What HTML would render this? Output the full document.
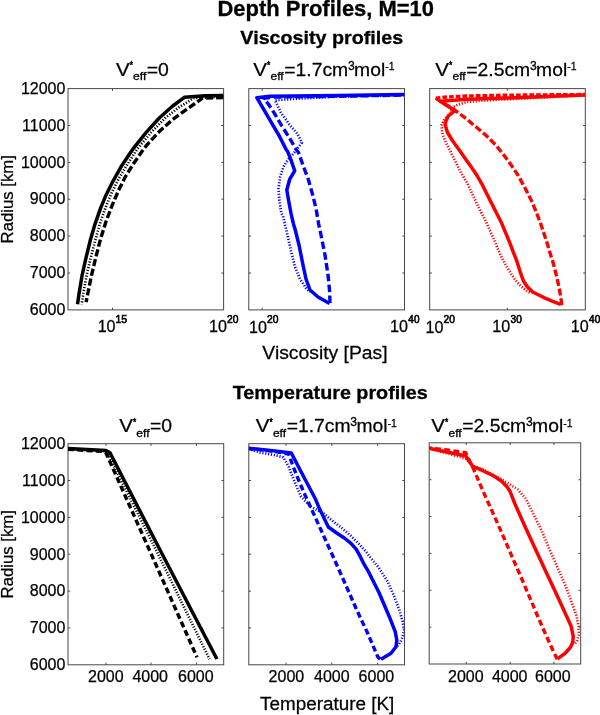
<!DOCTYPE html>
<html lang="en"><head><meta charset="utf-8"><title>Depth Profiles, M=10</title>
<style>html,body{margin:0;padding:0;background:#fff}svg{display:block}text{font-family:"Liberation Sans", Arial, Helvetica, sans-serif;fill:#000}</style>
</head><body>
<svg width="600" height="715" viewBox="0 0 600 715">
<rect x="0" y="0" width="600" height="715" fill="#fff"/>
<rect x="68.0" y="88.6" width="155.6" height="221.3" fill="none" stroke="#484848" stroke-width="1"/>
<path d="M68.0 125.5h2.2M223.6 125.5h-2.2M68.0 162.4h2.2M223.6 162.4h-2.2M68.0 199.2h2.2M223.6 199.2h-2.2M68.0 236.1h2.2M223.6 236.1h-2.2M68.0 273.0h2.2M223.6 273.0h-2.2M112.5 88.6v2.2M112.5 309.9v-2.2" stroke="#484848" stroke-width="1" fill="none"/>
<rect x="248.8" y="88.6" width="155.7" height="221.3" fill="none" stroke="#484848" stroke-width="1"/>
<path d="M248.8 125.5h2.2M404.5 125.5h-2.2M248.8 162.4h2.2M404.5 162.4h-2.2M248.8 199.2h2.2M404.5 199.2h-2.2M248.8 236.1h2.2M404.5 236.1h-2.2M248.8 273.0h2.2M404.5 273.0h-2.2M262.2 88.6v2.2M262.2 309.9v-2.2" stroke="#484848" stroke-width="1" fill="none"/>
<rect x="429.7" y="88.6" width="155.6" height="221.3" fill="none" stroke="#484848" stroke-width="1"/>
<path d="M429.7 125.5h2.2M585.3 125.5h-2.2M429.7 162.4h2.2M585.3 162.4h-2.2M429.7 199.2h2.2M585.3 199.2h-2.2M429.7 236.1h2.2M585.3 236.1h-2.2M429.7 273.0h2.2M585.3 273.0h-2.2M507.3 88.6v2.2M507.3 309.9v-2.2" stroke="#484848" stroke-width="1" fill="none"/>
<rect x="68.0" y="443.7" width="155.7" height="221.1" fill="none" stroke="#484848" stroke-width="1"/>
<path d="M68.0 480.5h2.2M223.7 480.5h-2.2M68.0 517.4h2.2M223.7 517.4h-2.2M68.0 554.2h2.2M223.7 554.2h-2.2M68.0 591.1h2.2M223.7 591.1h-2.2M68.0 627.9h2.2M223.7 627.9h-2.2M106.0 443.7v2.2M106.0 664.8v-2.2M151.0 443.7v2.2M151.0 664.8v-2.2M196.5 443.7v2.2M196.5 664.8v-2.2" stroke="#484848" stroke-width="1" fill="none"/>
<rect x="248.8" y="443.7" width="155.7" height="221.1" fill="none" stroke="#484848" stroke-width="1"/>
<path d="M248.8 480.5h2.2M404.5 480.5h-2.2M248.8 517.4h2.2M404.5 517.4h-2.2M248.8 554.2h2.2M404.5 554.2h-2.2M248.8 591.1h2.2M404.5 591.1h-2.2M248.8 627.9h2.2M404.5 627.9h-2.2M286.0 443.7v2.2M286.0 664.8v-2.2M331.8 443.7v2.2M331.8 664.8v-2.2M377.7 443.7v2.2M377.7 664.8v-2.2" stroke="#484848" stroke-width="1" fill="none"/>
<rect x="429.2" y="442.8" width="151.5" height="221.2" fill="none" stroke="#484848" stroke-width="1"/>
<path d="M429.2 479.7h2.2M580.7 479.7h-2.2M429.2 516.5h2.2M580.7 516.5h-2.2M429.2 553.4h2.2M580.7 553.4h-2.2M429.2 590.3h2.2M580.7 590.3h-2.2M429.2 627.1h2.2M580.7 627.1h-2.2M466.2 442.8v2.2M466.2 664.0v-2.2M510.2 442.8v2.2M510.2 664.0v-2.2M553.9 442.8v2.2M553.9 664.0v-2.2" stroke="#484848" stroke-width="1" fill="none"/>
<text x="65.4" y="93.8" font-size="16.0" text-anchor="end" font-weight="normal" stroke="#000" stroke-width="0.25">12000</text>
<text x="65.4" y="130.7" font-size="16.0" text-anchor="end" font-weight="normal" stroke="#000" stroke-width="0.25">11000</text>
<text x="65.4" y="167.6" font-size="16.0" text-anchor="end" font-weight="normal" stroke="#000" stroke-width="0.25">10000</text>
<text x="65.4" y="204.4" font-size="16.0" text-anchor="end" font-weight="normal" stroke="#000" stroke-width="0.25">9000</text>
<text x="65.4" y="241.3" font-size="16.0" text-anchor="end" font-weight="normal" stroke="#000" stroke-width="0.25">8000</text>
<text x="65.4" y="278.2" font-size="16.0" text-anchor="end" font-weight="normal" stroke="#000" stroke-width="0.25">7000</text>
<text x="65.4" y="315.1" font-size="16.0" text-anchor="end" font-weight="normal" stroke="#000" stroke-width="0.25">6000</text>
<text x="65.4" y="448.9" font-size="16.0" text-anchor="end" font-weight="normal" stroke="#000" stroke-width="0.25">12000</text>
<text x="65.4" y="485.7" font-size="16.0" text-anchor="end" font-weight="normal" stroke="#000" stroke-width="0.25">11000</text>
<text x="65.4" y="522.6" font-size="16.0" text-anchor="end" font-weight="normal" stroke="#000" stroke-width="0.25">10000</text>
<text x="65.4" y="559.5" font-size="16.0" text-anchor="end" font-weight="normal" stroke="#000" stroke-width="0.25">9000</text>
<text x="65.4" y="596.3" font-size="16.0" text-anchor="end" font-weight="normal" stroke="#000" stroke-width="0.25">8000</text>
<text x="65.4" y="633.1" font-size="16.0" text-anchor="end" font-weight="normal" stroke="#000" stroke-width="0.25">7000</text>
<text x="65.4" y="670.0" font-size="16.0" text-anchor="end" font-weight="normal" stroke="#000" stroke-width="0.25">6000</text>
<text x="105.8" y="682.3" font-size="16.0" text-anchor="middle" font-weight="normal" stroke="#000" stroke-width="0.25">2000</text>
<text x="150.2" y="682.3" font-size="16.0" text-anchor="middle" font-weight="normal" stroke="#000" stroke-width="0.25">4000</text>
<text x="195.8" y="682.3" font-size="16.0" text-anchor="middle" font-weight="normal" stroke="#000" stroke-width="0.25">6000</text>
<text x="286.4" y="682.3" font-size="16.0" text-anchor="middle" font-weight="normal" stroke="#000" stroke-width="0.25">2000</text>
<text x="331.8" y="682.3" font-size="16.0" text-anchor="middle" font-weight="normal" stroke="#000" stroke-width="0.25">4000</text>
<text x="376.4" y="682.3" font-size="16.0" text-anchor="middle" font-weight="normal" stroke="#000" stroke-width="0.25">6000</text>
<text x="465.8" y="682.3" font-size="16.0" text-anchor="middle" font-weight="normal" stroke="#000" stroke-width="0.25">2000</text>
<text x="509.7" y="682.3" font-size="16.0" text-anchor="middle" font-weight="normal" stroke="#000" stroke-width="0.25">4000</text>
<text x="552.8" y="682.3" font-size="16.0" text-anchor="middle" font-weight="normal" stroke="#000" stroke-width="0.25">6000</text>
<text transform="translate(217.47 15.60) scale(1.0222 1)" font-size="21.5" font-weight="bold" stroke="#000" stroke-width="0.30">Depth Profiles, M=10</text>
<text transform="translate(240.37 43.50) scale(1.0651 1)" font-size="18.5" font-weight="bold" stroke="#000" stroke-width="0.30">Viscosity profiles</text>
<text transform="translate(232.73 399.40) scale(1.0681 1)" font-size="18.5" font-weight="bold" stroke="#000" stroke-width="0.30">Temperature profiles</text>
<text transform="translate(115.96 75.70) scale(1.1020 1)" font-size="18.7" font-weight="normal" stroke="#000" stroke-width="0.25">V</text>
<text transform="translate(129.79 68.97) scale(0.8286 1)" font-size="10" font-weight="normal" stroke="#000" stroke-width="0.50">*</text>
<text transform="translate(133.08 80.00) scale(1.0449 1)" font-size="11.6" font-weight="normal" stroke="#000" stroke-width="0.30">eff</text>
<text transform="translate(146.79 75.70) scale(1.0380 1)" font-size="18.7" font-weight="normal" stroke="#000" stroke-width="0.25">=0</text>
<text transform="translate(253.26 75.70) scale(1.1020 1)" font-size="18.7" font-weight="normal" stroke="#000" stroke-width="0.25">V</text>
<text transform="translate(267.09 68.97) scale(0.8286 1)" font-size="10" font-weight="normal" stroke="#000" stroke-width="0.50">*</text>
<text transform="translate(270.48 80.00) scale(1.0367 1)" font-size="11.6" font-weight="normal" stroke="#000" stroke-width="0.30">eff</text>
<text transform="translate(284.29 75.70) scale(1.0343 1)" font-size="18.7" font-weight="normal" stroke="#000" stroke-width="0.25">=1.7cm</text>
<text transform="translate(347.89 69.67) scale(1.0133 1)" font-size="12" font-weight="normal" stroke="#000" stroke-width="0.30">3</text>
<text transform="translate(354.11 75.70) scale(1.0317 1)" font-size="18.7" font-weight="normal" stroke="#000" stroke-width="0.25">mol</text>
<text transform="translate(385.25 69.80) scale(0.8973 1)" font-size="11.6" font-weight="normal" stroke="#000" stroke-width="0.30">-1</text>
<text transform="translate(435.26 75.70) scale(1.1020 1)" font-size="18.7" font-weight="normal" stroke="#000" stroke-width="0.25">V</text>
<text transform="translate(449.09 68.97) scale(0.8286 1)" font-size="10" font-weight="normal" stroke="#000" stroke-width="0.50">*</text>
<text transform="translate(452.48 80.00) scale(1.0367 1)" font-size="11.6" font-weight="normal" stroke="#000" stroke-width="0.30">eff</text>
<text transform="translate(466.29 75.70) scale(1.0343 1)" font-size="18.7" font-weight="normal" stroke="#000" stroke-width="0.25">=2.5cm</text>
<text transform="translate(529.89 69.67) scale(1.0133 1)" font-size="12" font-weight="normal" stroke="#000" stroke-width="0.30">3</text>
<text transform="translate(536.11 75.70) scale(1.0317 1)" font-size="18.7" font-weight="normal" stroke="#000" stroke-width="0.25">mol</text>
<text transform="translate(567.25 69.80) scale(0.8973 1)" font-size="11.6" font-weight="normal" stroke="#000" stroke-width="0.30">-1</text>
<text transform="translate(119.16 432.40) scale(1.1020 1)" font-size="18.7" font-weight="normal" stroke="#000" stroke-width="0.25">V</text>
<text transform="translate(132.99 425.68) scale(0.8286 1)" font-size="10" font-weight="normal" stroke="#000" stroke-width="0.50">*</text>
<text transform="translate(136.28 436.70) scale(1.0449 1)" font-size="11.6" font-weight="normal" stroke="#000" stroke-width="0.30">eff</text>
<text transform="translate(149.99 432.40) scale(1.0380 1)" font-size="18.7" font-weight="normal" stroke="#000" stroke-width="0.25">=0</text>
<text transform="translate(255.66 432.40) scale(1.1020 1)" font-size="18.7" font-weight="normal" stroke="#000" stroke-width="0.25">V</text>
<text transform="translate(269.49 425.68) scale(0.8286 1)" font-size="10" font-weight="normal" stroke="#000" stroke-width="0.50">*</text>
<text transform="translate(272.88 436.70) scale(1.0367 1)" font-size="11.6" font-weight="normal" stroke="#000" stroke-width="0.30">eff</text>
<text transform="translate(286.69 432.40) scale(1.0343 1)" font-size="18.7" font-weight="normal" stroke="#000" stroke-width="0.25">=1.7cm</text>
<text transform="translate(350.29 426.38) scale(1.0133 1)" font-size="12" font-weight="normal" stroke="#000" stroke-width="0.30">3</text>
<text transform="translate(356.51 432.40) scale(1.0317 1)" font-size="18.7" font-weight="normal" stroke="#000" stroke-width="0.25">mol</text>
<text transform="translate(387.65 426.50) scale(0.8973 1)" font-size="11.6" font-weight="normal" stroke="#000" stroke-width="0.30">-1</text>
<text transform="translate(431.26 432.40) scale(1.1020 1)" font-size="18.7" font-weight="normal" stroke="#000" stroke-width="0.25">V</text>
<text transform="translate(445.09 425.68) scale(0.8286 1)" font-size="10" font-weight="normal" stroke="#000" stroke-width="0.50">*</text>
<text transform="translate(448.48 436.70) scale(1.0367 1)" font-size="11.6" font-weight="normal" stroke="#000" stroke-width="0.30">eff</text>
<text transform="translate(462.29 432.40) scale(1.0343 1)" font-size="18.7" font-weight="normal" stroke="#000" stroke-width="0.25">=2.5cm</text>
<text transform="translate(525.89 426.38) scale(1.0133 1)" font-size="12" font-weight="normal" stroke="#000" stroke-width="0.30">3</text>
<text transform="translate(532.11 432.40) scale(1.0317 1)" font-size="18.7" font-weight="normal" stroke="#000" stroke-width="0.25">mol</text>
<text transform="translate(563.25 426.50) scale(0.8973 1)" font-size="11.6" font-weight="normal" stroke="#000" stroke-width="0.30">-1</text>
<text transform="translate(12.90 243.44) rotate(-90) scale(1.0451 1)" font-size="16" font-weight="normal" stroke="#000" stroke-width="0.25">Radius [km]</text>
<text transform="translate(12.90 598.44) rotate(-90) scale(1.0451 1)" font-size="16" font-weight="normal" stroke="#000" stroke-width="0.25">Radius [km]</text>
<text transform="translate(97.64 331.80) scale(1.0079 1)" font-size="16" font-weight="normal" stroke="#000" stroke-width="0.25">10</text>
<text transform="translate(115.45 322.50) scale(1.0000 1)" font-size="10.5" font-weight="normal" stroke="#000" stroke-width="0.60">15</text>
<text transform="translate(208.94 331.80) scale(1.0079 1)" font-size="16" font-weight="normal" stroke="#000" stroke-width="0.25">10</text>
<text transform="translate(227.01 322.50) scale(0.9767 1)" font-size="10.5" font-weight="normal" stroke="#000" stroke-width="0.60">20</text>
<text transform="translate(248.94 332.50) scale(1.0079 1)" font-size="16" font-weight="normal" stroke="#000" stroke-width="0.25">10</text>
<text transform="translate(267.01 323.20) scale(0.9767 1)" font-size="10.5" font-weight="normal" stroke="#000" stroke-width="0.60">20</text>
<text transform="translate(390.04 331.80) scale(1.0079 1)" font-size="16" font-weight="normal" stroke="#000" stroke-width="0.25">10</text>
<text transform="translate(408.36 322.50) scale(0.9545 1)" font-size="10.5" font-weight="normal" stroke="#000" stroke-width="0.60">40</text>
<text transform="translate(425.54 332.50) scale(1.0079 1)" font-size="16" font-weight="normal" stroke="#000" stroke-width="0.25">10</text>
<text transform="translate(443.61 323.20) scale(0.9767 1)" font-size="10.5" font-weight="normal" stroke="#000" stroke-width="0.60">20</text>
<text transform="translate(492.34 331.80) scale(1.0079 1)" font-size="16" font-weight="normal" stroke="#000" stroke-width="0.25">10</text>
<text transform="translate(510.54 322.50) scale(0.9655 1)" font-size="10.5" font-weight="normal" stroke="#000" stroke-width="0.60">30</text>
<text transform="translate(570.74 331.80) scale(1.0079 1)" font-size="16" font-weight="normal" stroke="#000" stroke-width="0.25">10</text>
<text transform="translate(589.06 322.50) scale(0.9545 1)" font-size="10.5" font-weight="normal" stroke="#000" stroke-width="0.60">40</text>
<text transform="translate(262.37 358.50) scale(1.0338 1)" font-size="18.7" font-weight="normal" stroke="#000" stroke-width="0.25">Viscosity [Pas]</text>
<text transform="translate(260.02 710.00) scale(1.0103 1)" font-size="18.7" font-weight="normal" stroke="#000" stroke-width="0.25">Temperature [K]</text>
<clipPath id="cv1"><rect x="68.0" y="88.6" width="155.6" height="221.3"/></clipPath>
<g clip-path="url(#cv1)">
<polyline points="223.3,96.5 194.0,98.0 178.6,107.5 165.2,118.0 152.0,131.5 137.5,148.7 127.3,164.5 118.5,179.1 111.8,192.5 106.2,205.9 100.5,221.6 95.5,239.5 90.8,257.4 86.6,275.3 83.4,293.2 81.6,304.4" fill="none" stroke="#000" stroke-width="2.7" stroke-linejoin="round" stroke-dasharray="1.2 1.7"/>
<polyline points="223.3,97.5 202.5,98.2 186.0,109.8 172.7,119.4 159.3,131.4 146.0,146.0 142.1,151.2 133.3,164.0 125.3,176.8 118.6,190.3 111.9,205.9 106.0,221.6 100.4,239.5 95.8,257.4 91.5,275.3 88.3,291.0 86.1,302.1" fill="none" stroke="#000" stroke-width="3.4" stroke-linejoin="round" stroke-dasharray="7.2 2.8"/>
<polyline points="223.3,95.5 205.0,95.8 184.7,97.2 172.7,106.0 159.3,118.0 146.0,132.7 133.2,148.7 130.7,152.2 121.7,165.7 112.9,181.3 106.2,194.7 100.6,208.2 95.1,223.8 90.5,239.5 86.1,257.4 82.1,275.3 79.1,293.2 77.5,304.2" fill="none" stroke="#000" stroke-width="3.5" stroke-linejoin="round"/>
</g>
<clipPath id="cv2"><rect x="248.8" y="88.6" width="155.7" height="221.3"/></clipPath>
<g clip-path="url(#cv2)">
<polyline points="404.2,95.0 340.0,96.5 300.0,98.5 275.0,100.2 281.0,112.7 289.3,124.3 297.7,134.3 301.8,142.7 294.3,152.7 287.7,160.0 283.5,166.7 280.2,176.7 278.5,188.3 279.3,200.0 281.3,213.3 283.0,216.0 287.0,233.0 291.0,251.0 295.0,267.0 300.0,279.0 306.0,288.0 310.0,292.0" fill="none" stroke="#0000ff" stroke-width="2.7" stroke-linejoin="round" stroke-dasharray="1.2 1.7"/>
<polyline points="330.0,303.0 329.6,291.0 328.0,275.0 325.0,255.0 321.0,235.0 318.5,223.3 316.0,208.3 312.7,195.0 308.5,180.0 303.5,166.7 298.5,152.5 296.0,149.3 289.3,137.7 281.8,126.0 275.0,114.3 268.5,104.3 263.7,98.2 275.0,97.0 339.0,96.3 404.2,95.0" fill="none" stroke="#0000ff" stroke-width="3.4" stroke-linejoin="round" stroke-dasharray="7.5 3.4"/>
<polyline points="404.2,94.6 339.0,95.4 270.0,96.2 256.8,97.7 262.7,107.7 271.0,121.8 279.3,136.0 286.0,149.3 287.7,151.7 291.0,160.0 294.7,170.8 289.7,179.2 286.8,190.0 288.5,200.0 291.0,213.3 293.5,224.2 295.0,229.0 299.0,245.0 303.0,265.0 306.0,279.0 310.0,290.0 318.0,297.0 329.6,303.6" fill="none" stroke="#0000ff" stroke-width="3.5" stroke-linejoin="round"/>
</g>
<clipPath id="cv3"><rect x="429.7" y="88.6" width="155.6" height="221.3"/></clipPath>
<g clip-path="url(#cv3)">
<polyline points="585.0,95.2 507.0,99.3 480.3,100.7 467.0,102.0 457.7,104.7 453.7,106.7 450.0,113.3 444.9,118.7 441.8,124.5 441.6,126.7 442.7,134.7 446.0,142.7 450.7,152.0 456.0,162.7 461.3,173.3 467.0,182.7 470.8,190.8 478.3,206.7 486.7,223.3 495.0,241.7 498.5,250.7 503.3,260.7 508.7,270.0 514.7,279.3 520.7,286.0 527.3,291.3 531.3,293.3" fill="none" stroke="#ff0000" stroke-width="2.7" stroke-linejoin="round" stroke-dasharray="1.2 1.65"/>
<polyline points="435.7,98.2 447.0,97.0 467.0,96.0 507.0,95.2 585.0,94.5" fill="none" stroke="#ff0000" stroke-width="3.4" stroke-linejoin="round" stroke-dasharray="4.7 2.0"/>
<polyline points="561.5,305.3 561.3,300.7 559.3,288.7 556.7,276.7 553.3,263.3 549.3,250.7 546.7,241.7 540.0,221.7 532.3,202.3 525.7,189.3 517.7,174.7 511.3,165.3 504.0,155.3 496.0,145.3 485.3,134.7 473.3,124.7 467.0,119.3 453.7,109.3 440.3,101.3 435.7,98.2" fill="none" stroke="#ff0000" stroke-width="3.4" stroke-linejoin="round" stroke-dasharray="7 2.8"/>
<polyline points="585.0,94.9 507.0,98.0 467.0,99.3 440.3,101.3 455.0,110.7 448.3,116.0 445.7,121.5 445.3,125.3 447.3,132.0 452.0,140.0 458.7,149.3 465.3,158.7 472.0,168.0 477.3,176.0 481.5,183.3 487.5,195.3 493.3,206.7 501.7,223.3 510.0,243.3 512.7,250.7 516.7,260.7 520.0,271.3 523.3,280.7 527.3,286.7 532.7,292.0 543.3,297.3 552.7,301.3 560.7,304.4" fill="none" stroke="#ff0000" stroke-width="3.5" stroke-linejoin="round"/>
</g>
<clipPath id="ct1"><rect x="68.0" y="443.7" width="155.7" height="221.1"/></clipPath>
<g clip-path="url(#ct1)">
<polyline points="68.0,448.9 104.0,451.0 107.3,452.7 156.7,551.3 209.5,659.2" fill="none" stroke="#000" stroke-width="2.7" stroke-linejoin="round" stroke-dasharray="1.1 1.65"/>
<polyline points="68.0,449.3 103.0,451.5 106.0,453.0 150.0,551.3 197.0,657.3" fill="none" stroke="#000" stroke-width="3.4" stroke-linejoin="round" stroke-dasharray="6 3.3"/>
<polyline points="68.0,448.4 106.0,450.6 110.0,452.8 160.7,551.3 216.9,659.0" fill="none" stroke="#000" stroke-width="3.5" stroke-linejoin="round"/>
</g>
<clipPath id="ct2"><rect x="248.8" y="443.7" width="155.7" height="221.1"/></clipPath>
<g clip-path="url(#ct2)">
<polyline points="248.5,448.8 259.3,452.3 272.7,454.7 283.3,457.3 288.7,466.7 292.7,477.3 296.7,486.7 300.7,496.0 304.3,500.0 311.0,506.7 324.3,514.0 332.3,520.7 341.7,528.0 351.0,536.0 359.0,544.0 365.7,551.3 372.3,560.0 378.5,567.3 387.7,581.7 394.3,596.7 399.3,610.0 402.7,621.7 404.0,630.0 402.7,636.7 400.2,642.5 396.8,646.7" fill="none" stroke="#0000ff" stroke-width="2.7" stroke-linejoin="round" stroke-dasharray="1.15 1.75"/>
<polyline points="380.2,659.2 377.7,656.7 367.7,633.3 356.0,608.3 344.3,581.7 332.7,555.8 329.3,548.3 321.0,530.0 312.7,511.7 306.0,497.3 298.0,478.7 292.7,465.3 288.7,454.0 272.7,451.0 248.5,448.5" fill="none" stroke="#0000ff" stroke-width="3.4" stroke-linejoin="round" stroke-dasharray="6 3.3"/>
<polyline points="248.5,448.3 272.7,450.7 291.3,453.0 303.3,476.0 315.3,498.7 319.3,508.3 328.3,527.0 336.3,532.7 344.3,538.0 351.0,543.3 356.3,549.3 360.3,556.7 364.3,564.7 368.5,571.7 379.3,593.3 389.3,616.7 395.2,631.7 396.8,640.0 396.0,646.7 391.0,653.3 381.0,659.2" fill="none" stroke="#0000ff" stroke-width="3.5" stroke-linejoin="round"/>
</g>
<clipPath id="ct3"><rect x="429.2" y="442.8" width="151.5" height="221.2"/></clipPath>
<g clip-path="url(#ct3)">
<polyline points="429.0,448.4 447.0,453.3 465.7,458.7 473.0,466.0 483.0,469.5 500.3,478.7 507.0,482.7 517.7,489.3 525.7,498.7 533.7,514.7 541.7,530.7 548.3,546.7 553.7,558.7 557.5,567.6 565.3,585.2 571.2,600.9 576.1,614.6 578.6,626.4 579.0,634.2 577.1,641.0 574.0,645.0" fill="none" stroke="#ff0000" stroke-width="2.7" stroke-linejoin="round" stroke-dasharray="1.15 1.75"/>
<polyline points="557.3,659.3 553.6,651.8 543.8,630.3 532.0,602.9 520.3,575.5 512.3,557.3 501.4,532.0 490.1,506.7 486.4,498.7 480.5,485.3 473.7,469.3 469.7,461.3 465.7,452.7 447.0,450.0 429.0,447.9" fill="none" stroke="#ff0000" stroke-width="3.4" stroke-linejoin="round" stroke-dasharray="6 3.3"/>
<polyline points="429.0,448.1 447.0,452.0 465.7,456.0 469.7,462.0 473.0,466.7 483.0,470.7 493.7,476.0 501.7,481.3 507.0,486.7 509.7,490.7 515.0,504.0 523.3,522.7 534.3,546.7 539.9,558.7 545.8,571.5 555.0,591.0 565.0,612.7 571.2,626.4 573.2,636.2 572.8,642.0 570.3,647.5 565.3,653.2 557.5,658.8" fill="none" stroke="#ff0000" stroke-width="3.5" stroke-linejoin="round"/>
</g>
</svg>
</body></html>
